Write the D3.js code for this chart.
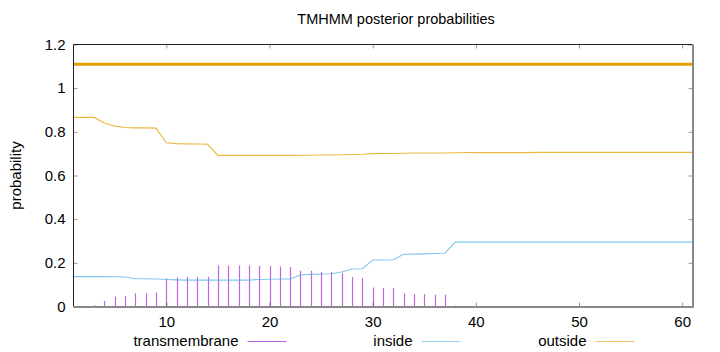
<!DOCTYPE html>
<html>
<head>
<meta charset="utf-8">
<script src="https://cdn.jsdelivr.net/npm/d3@7"></script>
<style>
  body { margin: 0; background: #fff; }
  svg { display: block; font-family: "Liberation Sans", Arial, sans-serif; }
</style>
</head>
<body>
<svg id="chart" width="720" height="352"></svg>
<script>
// residue positions 1..61
var positions = d3.range(1, 62);

// posterior probabilities
var transmembrane = [0, 0, 0.006, 0.026, 0.045, 0.047, 0.060, 0.060, 0.064, 0.129,
  0.133, 0.135, 0.135, 0.136, 0.188, 0.188, 0.188, 0.188, 0.186, 0.185,
  0.183, 0.181, 0.164, 0.164, 0.158, 0.158, 0.153, 0.135, 0.131, 0.087,
  0.085, 0.084, 0.059, 0.057, 0.056, 0.054, 0.054, 0.004, 0.003, 0.003,
  0.003, 0.003, 0.002, 0.002, 0, 0, 0, 0, 0, 0,
  0, 0, 0, 0, 0, 0, 0, 0, 0, 0, 0];
var inside = [0.137, 0.137, 0.137, 0.137, 0.136, 0.135, 0.127, 0.127, 0.126, 0.124,
  0.122, 0.121, 0.121, 0.121, 0.121, 0.121, 0.121, 0.121, 0.124, 0.125,
  0.126, 0.126, 0.144, 0.147, 0.149, 0.150, 0.158, 0.172, 0.173, 0.213,
  0.213, 0.214, 0.239, 0.240, 0.241, 0.243, 0.244, 0.295, 0.295, 0.295,
  0.295, 0.295, 0.295, 0.295, 0.295, 0.295, 0.295, 0.295, 0.295, 0.295,
  0.295, 0.295, 0.295, 0.295, 0.295, 0.295, 0.295, 0.295, 0.295, 0.295, 0.295];
var outside = [0.866, 0.866, 0.866, 0.840, 0.826, 0.820, 0.818, 0.818, 0.817, 0.750,
  0.746, 0.745, 0.744, 0.743, 0.692, 0.692, 0.692, 0.692, 0.692, 0.692,
  0.692, 0.692, 0.693, 0.693, 0.694, 0.694, 0.695, 0.696, 0.697, 0.700,
  0.701, 0.701, 0.702, 0.703, 0.703, 0.703, 0.703, 0.704, 0.705, 0.705,
  0.705, 0.705, 0.705, 0.705, 0.705, 0.706, 0.706, 0.706, 0.706, 0.706,
  0.706, 0.706, 0.706, 0.706, 0.706, 0.706, 0.706, 0.706, 0.706, 0.706, 0.706];

// predicted topology (drawn as the thick line above the curves)
var topoStart = [1];
var topoEnd = [61];
var topoLevel = [1.11];

var xTicks = [10, 20, 30, 40, 50, 60];
var yTicks = [0, 0.2, 0.4, 0.6, 0.8, 1, 1.2];
var legendNames = ["transmembrane", "inside", "outside"];
var legendColors = ["#9400d3", "#56b4e9", "#e69f00"];

var svg = d3.select("#chart");
var plotLeft = 73.5, plotRight = 692.5, plotTop = 44.5, plotBottom = 306.5;

var x = d3.scaleLinear().domain([1, 61]).range([plotLeft, plotRight]);
var y = d3.scaleLinear().domain([0, 1.2]).range([plotBottom, plotTop]);

// title + y label
svg.append("text")
  .attr("x", 396).attr("y", 24)
  .attr("text-anchor", "middle").attr("font-size", 14.5)
  .text("TMHMM posterior probabilities");

svg.append("text")
  .attr("transform", "translate(21," + ((plotTop + plotBottom) / 2) + ") rotate(-90)")
  .attr("text-anchor", "middle").attr("font-size", 15)
  .text("probability");

// axes with gnuplot style inward ticks
function styleAxis(g) {
  g.select(".domain").remove();
  g.selectAll(".tick line").attr("stroke", "#999");
  g.selectAll(".tick text").attr("fill", "#000").attr("font-size", 15)
    .attr("font-family", "Liberation Sans, Arial, sans-serif");
}

svg.append("g")
  .attr("transform", "translate(" + plotLeft + ",0)")
  .call(d3.axisLeft(y).tickValues(yTicks).tickSize(-4).tickPadding(8)
    .tickFormat(function(d) { return String(d); }))
  .call(styleAxis);

svg.append("g")
  .attr("transform", "translate(" + plotRight + ",0)")
  .call(d3.axisRight(y).tickValues(yTicks).tickSize(-4).tickFormat(""))
  .call(styleAxis);

svg.append("g")
  .attr("transform", "translate(0," + plotBottom + ")")
  .call(d3.axisBottom(x).tickValues(xTicks).tickSize(-4).tickPadding(10))
  .call(styleAxis);

svg.append("g")
  .attr("transform", "translate(0," + plotTop + ")")
  .call(d3.axisTop(x).tickValues(xTicks).tickSize(-4).tickFormat(""))
  .call(styleAxis);

// transmembrane impulses
svg.append("g")
  .selectAll("line")
  .data(positions.filter(function(p, i) { return transmembrane[i] > 0; }))
  .enter()
  .append("line")
    .attr("x1", function(p) { return Math.round(x(p)) + 0.5; })
    .attr("x2", function(p) { return Math.round(x(p)) + 0.5; })
    .attr("y1", y(0))
    .attr("y2", function(p) { return y(transmembrane[p - 1]); })
    .attr("stroke", legendColors[0])
    .attr("stroke-opacity", 0.6)
    .attr("stroke-width", 1.2);

// inside / outside curves
var line = d3.line()
  .x(function(d) { return x(d[0]); })
  .y(function(d) { return y(d[1]); });

[inside, outside].forEach(function(series, k) {
  svg.append("path")
    .datum(positions.map(function(p, i) { return [p, series[i]]; }))
    .attr("d", line)
    .attr("fill", "none")
    .attr("stroke", legendColors[k + 1])
    .attr("stroke-opacity", 0.75)
    .attr("stroke-width", 1.1);
});

// topology line
topoStart.forEach(function(s, i) {
  svg.append("line")
    .attr("x1", x(s)).attr("x2", x(topoEnd[i]))
    .attr("y1", y(topoLevel[i])).attr("y2", y(topoLevel[i]))
    .attr("stroke", "#e69f00")
    .attr("stroke-width", 3);
});

// border: left/top dark, bottom/right grey
svg.append("line").attr("x1", plotLeft).attr("x2", plotLeft).attr("y1", plotTop).attr("y2", plotBottom)
  .attr("stroke", "#222").attr("stroke-width", 1);
svg.append("line").attr("x1", plotLeft).attr("x2", plotRight).attr("y1", plotTop).attr("y2", plotTop)
  .attr("stroke", "#222").attr("stroke-width", 1);
svg.append("line").attr("x1", plotLeft).attr("x2", plotRight + 1).attr("y1", plotBottom + 0.5).attr("y2", plotBottom + 0.5)
  .attr("stroke", "#888").attr("stroke-width", 2);
svg.append("line").attr("x1", plotRight + 0.5).attr("x2", plotRight + 0.5).attr("y1", plotTop).attr("y2", plotBottom + 1)
  .attr("stroke", "#888").attr("stroke-width", 2);

// legend
var legend = svg.append("g");
legendNames.forEach(function(name, i) {
  var endX = 238.5 + i * 174;
  legend.append("text")
    .attr("x", endX).attr("y", 346)
    .attr("text-anchor", "end").attr("font-size", 15)
    .text(name);
  legend.append("line")
    .attr("x1", endX + 9).attr("x2", endX + 48)
    .attr("y1", 341.5).attr("y2", 341.5)
    .attr("stroke", legendColors[i])
    .attr("stroke-opacity", 0.6)
    .attr("stroke-width", 1);
});
</script>
</body>
</html>
